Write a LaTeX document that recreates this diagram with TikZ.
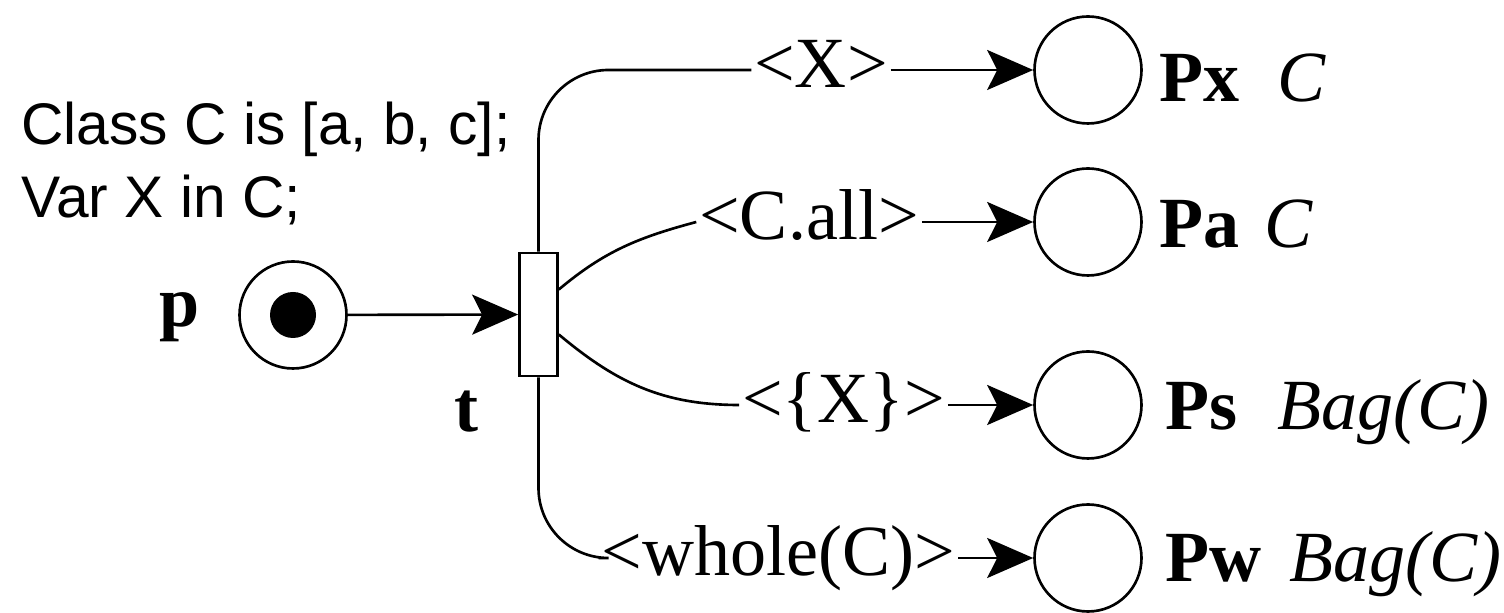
\documentclass[tikz,border=0pt]{standalone}
\usepackage{fontspec}
\setmainfont{Liberation Serif}
\newfontfamily\declfont{Liberation Sans}
\usetikzlibrary{arrows.meta}
\tikzset{
  pnplace/.style={draw,circle,minimum size=10.7mm,inner sep=0pt},
  pntrans/.style={draw,rectangle,minimum width=3.8mm,minimum height=12.3mm,inner sep=0pt},
  arclab/.style={inner sep=0.5pt,text height=10.2pt,text depth=0pt,font=\fontsize{20.5}{24}\selectfont},
  declab/.style={anchor=base west,inner sep=0pt,font=\declfont\fontsize{16.7}{20}\selectfont},
  namelab/.style={anchor=base west,inner sep=0pt,font=\fontsize{20.5}{24}\selectfont},
  boldlab/.style={inner sep=0pt,font=\fontsize{20.5}{24}\selectfont\bfseries}
}

\begin{document}
\begin{tikzpicture}[line width=0.75pt,>={Stealth[length=4.6mm,width=4mm,inset=1mm]}]
  \useasboundingbox (0,0) rectangle (15.04,-6.13);
  % declarations
  \node[declab] (decl1) at (0.20,-1.45) {Class C is [a, b, c];};
  \node[declab] (decl2) at (0.20,-2.18) {Var X in C;};
  % input place and transition
  \node[pnplace] (p) at (2.93,-3.15) {};
  \node[circle,fill,minimum size=4.6mm,inner sep=0pt] (tok) at (p) {};
  \node[boldlab] (plab) at (1.80,-3.17) {p};
  \node[pntrans] (t) at (5.385,-3.145) {};
  \node[boldlab] (tlab) at (4.66,-4.12) {t};
  \draw[->] (p) -- (t);
  % output places
  \node[pnplace] (px) at (10.88,-0.70) {};
  \node[pnplace] (pa) at (10.88,-2.22) {};
  \node[pnplace] (ps) at (10.88,-4.05) {};
  \node[pnplace] (pw) at (10.88,-5.58) {};
  \node[namelab] (pxlab) at ([xshift=1.5mm,yshift=-3.2mm]px.east) {\textbf{Px}\hspace{3.8mm}\textit{C}};
  \node[namelab] (palab) at ([xshift=1.5mm,yshift=-2.6mm]pa.east) {\textbf{Pa}\hspace{2.5mm}\textit{C}};
  \node[namelab] (pslab) at ([xshift=2.1mm,yshift=-2.5mm]ps.east) {\textbf{Ps}\hspace{4mm}\textit{Bag(C)}};
  \node[namelab] (pwlab) at ([xshift=2.1mm,yshift=-2.4mm]pw.east) {\textbf{Pw}\hspace{2.8mm}\textit{Bag(C)}};
  % arc inscriptions
  \node[arclab] (ax) at (8.21,-0.70) {<X>};
  \node[arclab] (aa) at (8.09,-2.22) {<C.all>};
  \node[arclab] (as) at (8.435,-4.05) {<\{X\}>};
  \node[arclab] (aw) at (7.785,-5.58) {<whole(C)>};
  \draw[rounded corners=7mm] (t.north) |- (ax.west);
  \draw ([yshift=2.5mm]t.east) to[out=40,in=195] (aa.west);
  \draw ([yshift=-2mm]t.east) to[out=-40,in=180] (as.west);
  \draw[rounded corners=7mm] (t.south) |- (aw.west);
  \draw[->] (ax.east) -- (px.west);
  \draw[->] (aa.east) -- (pa.west);
  \draw[->] (as.east) -- (ps.west);
  \draw[->] (aw.east) -- (pw.west);
\end{tikzpicture}
\end{document}
